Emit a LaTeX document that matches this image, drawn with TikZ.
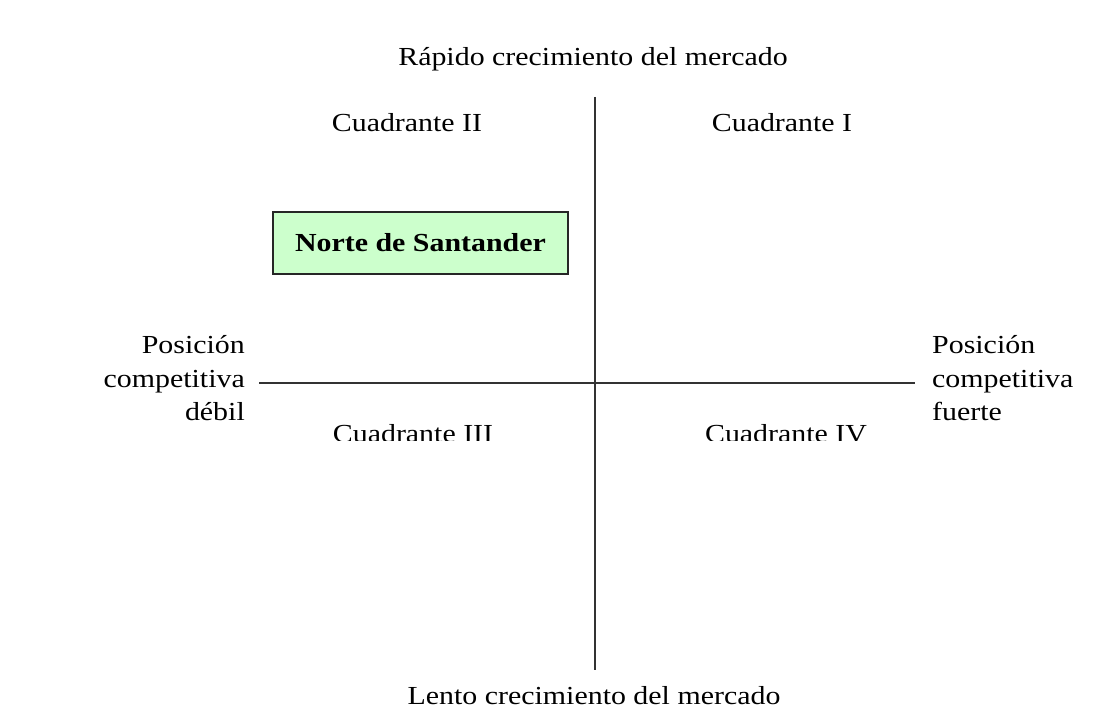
\documentclass[tikz,border=0pt]{standalone}
\usepackage{fontspec}
\setmainfont{Liberation Serif}[FakeStretch=1.15]
\definecolor{boxgreen}{HTML}{CCFFCC}
\begin{document}
\begin{tikzpicture}[x=1pt,y=-1pt,
  lbl/.style={inner sep=0pt,font=\fontsize{26}{33}\selectfont},
  axis/.style={draw=black!80,line width=1.6pt},
  statebox/.style={draw=black!85,line width=2pt,fill=boxgreen,minimum width=295pt,minimum height=62pt,inner sep=0pt,font=\fontsize{26}{33}\selectfont\bfseries}]
\useasboundingbox (0,0) rectangle (1113,708);
\fill[white] (0,0) rectangle (1113,708);
% axes
\coordinate (vt) at (595,97);
\coordinate (vb) at (595,670);
\coordinate (hl) at (259,383);
\coordinate (hr) at (915,383);
\draw[axis] (vt) -- (vb);
\draw[axis] (hl) -- (hr);
% axis labels
\node[lbl,anchor=base] (top) at (593,66) {Rápido crecimiento del mercado};
\node[lbl,anchor=base] (bottom) at (594,704) {Lento crecimiento del mercado};
\node[lbl,anchor=base east] (l1) at (245,353) {Posición};
\node[lbl,anchor=base east] (l2) at (245,387) {competitiva};
\node[lbl,anchor=base east] (l3) at (245,420) {débil};
\node[lbl,anchor=base west] (r1) at (932,353) {Posición};
\node[lbl,anchor=base west] (r2) at (932,387) {competitiva};
\node[lbl,anchor=base west] (r3) at (932,420) {fuerte};
% quadrants
\node[lbl,anchor=base] (q2) at (407,132) {Cuadrante II};
\node[lbl,anchor=base] (q1) at (782,132) {Cuadrante I};
\begin{scope}
\clip (0,0) rectangle (1113,440);
\node[lbl,anchor=base] (q3) at (413,442) {Cuadrante III};
\node[lbl,anchor=base] (q4) at (786,442) {Cuadrante IV};
\end{scope}
% box
\node[statebox] (ns) at (420.5,243) {Norte de Santander};
\end{tikzpicture}
\end{document}
